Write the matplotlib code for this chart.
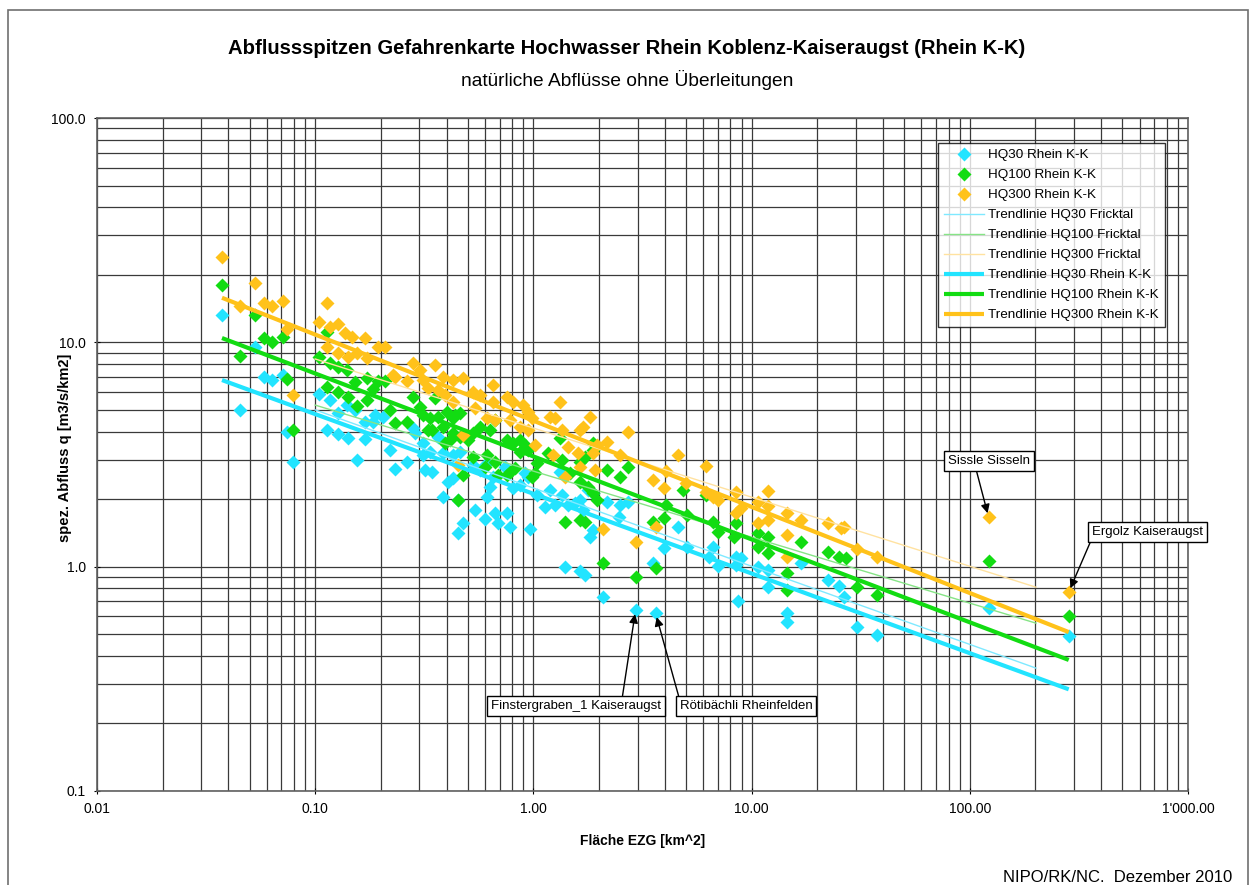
import numpy as np
import matplotlib
matplotlib.use("Agg")
import matplotlib.pyplot as plt
from matplotlib.patches import Rectangle

plt.rcParams["font.family"] = ["Liberation Sans", "DejaVu Sans"]

# --- data ---------------------------------------------------------------------
hq30_area = [0.0374, 0.0531, 0.0453, 0.0583, 0.0635, 0.0713, 0.0744, 0.0793, 0.1043, 0.117,
             0.1275, 0.140, 0.1527, 0.169, 0.188, 0.205, 0.1135, 0.1275, 0.1416, 0.169,
             0.156, 0.2208, 0.233, 0.264, 0.320, 0.344, 0.313, 0.385, 0.407, 0.1845,
             0.282, 0.2875, 0.313, 0.337, 0.365, 0.385, 0.4275, 0.463, 0.4275, 0.453,
             0.475, 0.453, 0.528, 0.571, 0.615, 0.652, 0.635, 0.615, 0.542, 0.602,
             0.669, 0.687, 0.760, 0.784, 0.744, 0.805, 0.872, 0.919, 0.944, 1.043,
             0.969, 1.197, 1.262, 1.359, 1.439, 1.559, 1.643, 1.695, 1.778, 1.875,
             2.185, 2.506, 2.70, 2.455, 1.402, 1.643, 1.732, 1.826, 1.875, 2.094,
             2.94, 3.63, 3.95, 3.53, 4.60, 1.330, 1.135, 5.08, 6.65, 6.35,
             6.98, 8.49, 8.90, 8.49, 10.65, 11.9, 11.9, 8.63, 14.6, 14.6,
             16.8, 22.3, 25.1, 26.4, 30.3, 37.4, 122, 284]
hq30_q = [13.2, 9.53, 4.99, 7.00, 6.79, 7.15, 3.98, 2.93, 5.88, 5.53,
          4.84, 5.25, 4.99, 4.41, 4.74, 4.64, 4.06, 3.90, 3.74, 3.71,
          2.99, 3.31, 2.72, 2.93, 2.70, 2.64, 3.15, 2.04, 2.38, 4.41,
          4.15, 3.94, 3.56, 3.24, 3.78, 3.21, 3.15, 3.24, 2.48, 1.98,
          1.56, 1.41, 2.84, 2.70, 2.90, 2.51, 2.26, 2.04, 1.79, 1.63,
          1.73, 1.56, 1.73, 1.50, 2.78, 2.24, 2.31, 2.61, 2.51, 2.09,
          1.47, 2.20, 1.88, 2.09, 1.88, 1.92, 1.98, 1.79, 2.20, 2.13,
          1.94, 1.88, 1.94, 1.66, 0.996, 0.956, 0.918, 1.355, 1.46, 0.732,
          0.641, 0.621, 1.21, 1.04, 1.50, 2.64, 1.84, 1.22, 1.22, 1.10,
          1.01, 1.10, 1.09, 1.02, 0.996, 0.966, 0.811, 0.703, 0.621, 0.566,
          1.04, 0.872, 0.820, 0.732, 0.538, 0.495, 0.654, 0.491]

hq100_area = [0.0374, 0.0531, 0.0453, 0.0583, 0.0635, 0.0713, 0.0744, 0.0793, 0.1135, 0.1043,
              0.117, 0.1275, 0.140, 0.1527, 0.173, 0.1945, 0.2096, 0.1135, 0.1275, 0.1416,
              0.156, 0.173, 0.1845, 0.2208, 0.233, 0.264, 0.282, 0.355, 0.313, 0.330,
              0.365, 0.385, 0.395, 0.416, 0.439, 0.463, 0.475, 0.303, 0.337, 0.403,
              0.4275, 0.344, 0.4275, 0.463, 0.528, 0.571, 0.635, 0.669, 0.503, 0.528,
              0.615, 0.669, 0.602, 0.687, 0.760, 0.805, 0.872, 0.919, 0.872, 0.944,
              0.760, 0.784, 0.827, 0.989, 1.021, 1.043, 1.172, 1.330, 1.359, 1.479,
              1.643, 1.732, 1.875, 1.875, 1.643, 1.778, 1.875, 1.966, 2.185, 2.506,
              2.70, 0.453, 1.402, 1.643, 1.732, 2.094, 2.94, 3.63, 3.53, 3.95,
              4.06, 4.83, 5.08, 6.18, 6.65, 6.98, 8.49, 8.27, 10.65, 11.9,
              10.65, 11.9, 14.6, 14.6, 16.8, 22.3, 25.1, 27.0, 30.3, 37.4,
              122, 284]
hq100_q = [18.0, 13.2, 8.69, 10.45, 10.0, 10.6, 6.86, 4.06, 11.1, 8.60,
           8.09, 7.76, 7.52, 6.65, 6.93, 6.72, 6.72, 6.32, 6.00, 5.70,
           5.20, 5.53, 6.19, 4.99, 4.37, 4.41, 5.70, 5.65, 4.74, 4.06,
           4.64, 4.19, 3.56, 3.67, 4.74, 4.84, 2.56, 5.15, 4.60, 4.89,
           4.60, 4.06, 3.94, 3.78, 3.94, 4.19, 4.06, 4.50, 3.67, 3.08,
           3.15, 2.93, 2.78, 2.56, 3.67, 3.56, 3.67, 3.48, 3.24, 3.31,
           2.56, 2.64, 2.75, 2.51, 2.61, 2.90, 3.21, 3.74, 2.99, 2.61,
           2.93, 3.08, 3.31, 3.56, 2.38, 2.26, 2.13, 1.98, 2.70, 2.51,
           2.78, 1.98, 1.58, 1.61, 1.58, 1.04, 0.899, 0.986, 1.58, 1.65,
           1.88, 2.20, 1.70, 2.09, 1.58, 1.43, 1.56, 1.355, 1.41, 1.355,
           1.22, 1.15, 0.936, 0.786, 1.29, 1.16, 1.10, 1.09, 0.811, 0.747,
           1.06, 0.602]

hq300_area = [0.0374, 0.0531, 0.0453, 0.0583, 0.0635, 0.0713, 0.0744, 0.0793, 0.1135, 0.1043,
              0.117, 0.1275, 0.137, 0.148, 0.169, 0.1135, 0.1275, 0.1416, 0.156, 0.173,
              0.1945, 0.2096, 0.228, 0.233, 0.264, 0.282, 0.303, 0.355, 0.330, 0.365,
              0.385, 0.4275, 0.475, 0.395, 0.4275, 0.475, 0.313, 0.528, 0.571, 0.652,
              0.652, 0.760, 0.805, 0.900, 0.944, 0.542, 0.615, 0.669, 0.784, 0.872,
              0.989, 0.944, 1.021, 1.197, 1.330, 1.359, 1.439, 1.235, 1.262, 1.643,
              1.695, 1.826, 1.609, 1.875, 1.966, 2.185, 2.70, 2.506, 1.643, 1.923,
              1.402, 0.453, 3.53, 4.06, 3.95, 4.60, 2.094, 2.94, 3.63, 4.98,
              6.18, 6.18, 6.65, 6.98, 8.49, 8.49, 8.90, 10.65, 11.9, 11.9,
              10.65, 11.9, 14.6, 16.8, 14.6, 14.6, 22.3, 25.6, 26.4, 30.3,
              37.4, 122, 284]
hq300_q = [24.0, 18.4, 14.5, 15.0, 14.5, 15.3, 11.5, 5.82, 15.0, 12.3,
           11.7, 12.1, 11.0, 10.6, 10.45, 9.53, 8.96, 8.60, 8.96, 8.51,
           9.53, 9.53, 7.15, 7.00, 6.72, 8.09, 7.52, 7.92, 6.25, 6.13,
           7.00, 6.79, 6.93, 5.82, 5.42, 3.86, 6.79, 6.00, 5.82, 6.45,
           5.42, 5.70, 5.42, 5.25, 4.89, 5.10, 4.60, 4.50, 4.50, 4.19,
           4.60, 4.06, 3.48, 4.64, 5.42, 4.06, 3.41, 3.15, 4.60, 4.06,
           4.19, 4.64, 3.21, 3.21, 3.48, 3.59, 3.98, 3.15, 2.78, 2.70,
           2.51, 2.84, 2.43, 2.67, 2.24, 3.15, 1.47, 1.29, 1.50, 2.36,
           2.81, 2.15, 2.04, 1.98, 2.15, 1.73, 1.82, 1.94, 2.17, 1.86,
           1.56, 1.61, 1.73, 1.61, 1.38, 1.10, 1.56, 1.49, 1.50, 1.20,
           1.10, 1.66, 0.77]

# trend lines (end points of the straight log-log lines)
trend_kk_area = [0.0374, 284]
trend_kk_hq30 = [6.79, 0.284]
trend_kk_hq100 = [10.45, 0.384]
trend_kk_hq300 = [15.8, 0.511]

trend_fricktal_area = [0.1, 201]
trend_fricktal_hq30 = [5.0, 0.353]
trend_fricktal_hq100 = [5.25, 0.56]
trend_fricktal_hq300 = [8.43, 0.81]

# labelled stations
callout_text = ["Sissle Sisseln", "Ergolz Kaiseraugst", "Finstergraben_1 Kaiseraugst", "Rötibächli Rheinfelden"]
callout_area = [122, 284, 2.94, 3.63]
callout_q = [1.66, 0.77, 0.641, 0.621]
# where the boxes sit (axes fraction) and where the arrow leaves the box
callout_pos = [(0.818, 0.490), (0.963, 0.385), (0.439, 0.126), (0.595, 0.126)]
callout_relpos = [(0.33, 0.0), (0.0, 0.0), (0.77, 1.0), (0.0, 1.0)]

x_ticks = [0.01, 0.1, 1, 10, 100, 1000]
x_tick_labels = ["0.01", "0.10", "1.00", "10.00", "100.00", "1'000.00"]
y_ticks = [0.1, 1, 10, 100]
y_tick_labels = ["0.1", "1.0", "10.0", "100.0"]

CYAN = "#22E4FF"
GREEN = "#12DC12"
ORANGE = "#FFC21A"

# --- figure -------------------------------------------------------------------
fig = plt.figure(figsize=(12.54, 8.85), dpi=100)
ax = fig.add_axes([97 / 1254, 1 - 791 / 885, 1091 / 1254, 673 / 885])

ax.set_xscale("log")
ax.set_yscale("log")
ax.set_xlim(0.01, 1000)
ax.set_ylim(0.1, 100)

ax.grid(True, which="both", color="#3a3a3a", linewidth=0.9)
ax.set_axisbelow(True)

ms = 6.8
ax.plot(hq30_area, hq30_q, "D", color=CYAN, ms=ms, mec="none", label="HQ30 Rhein K-K", zorder=3)
ax.plot(hq100_area, hq100_q, "D", color=GREEN, ms=ms, mec="none", label="HQ100 Rhein K-K", zorder=3)
ax.plot(hq300_area, hq300_q, "D", color=ORANGE, ms=ms, mec="none", label="HQ300 Rhein K-K", zorder=3)

ax.plot(trend_fricktal_area, trend_fricktal_hq30, color="#7FE9FF", lw=1.0, label="Trendlinie HQ30 Fricktal", zorder=4)
ax.plot(trend_fricktal_area, trend_fricktal_hq100, color="#86E486", lw=1.0, label="Trendlinie HQ100 Fricktal", zorder=4)
ax.plot(trend_fricktal_area, trend_fricktal_hq300, color="#FFE2A0", lw=1.0, label="Trendlinie HQ300 Fricktal", zorder=4)

ax.plot(trend_kk_area, trend_kk_hq30, color=CYAN, lw=3.0, label="Trendlinie HQ30 Rhein K-K", zorder=5, solid_capstyle="butt")
ax.plot(trend_kk_area, trend_kk_hq100, color=GREEN, lw=3.0, label="Trendlinie HQ100 Rhein K-K", zorder=5, solid_capstyle="butt")
ax.plot(trend_kk_area, trend_kk_hq300, color=ORANGE, lw=3.0, label="Trendlinie HQ300 Rhein K-K", zorder=5, solid_capstyle="butt")

ax.set_xticks(x_ticks)
ax.set_xticklabels(x_tick_labels)
ax.set_yticks(y_ticks)
ax.set_yticklabels(y_tick_labels)
ax.tick_params(which="major", length=4, width=0.8, direction="inout", labelsize=10, pad=6)
ax.tick_params(which="minor", length=0)
for sp in ax.spines.values():
    sp.set_color("#606060")
    sp.set_linewidth(1.2)

ax.set_xlabel("Fläche EZG [km^2]", fontsize=10, fontweight="bold", labelpad=13)
ax.set_ylabel("spez. Abfluss q [m3/s/km2]", fontsize=10.5, fontweight="bold")
ax.yaxis.set_label_coords((72 - 97) / 1091, 0.51)

for text, area, q, pos, rel in zip(callout_text, callout_area, callout_q, callout_pos, callout_relpos):
    ax.annotate(text, xy=(area, q), xycoords="data", xytext=pos, textcoords="axes fraction",
                ha="center", va="center", fontsize=9.5, zorder=8,
                bbox=dict(boxstyle="square,pad=0.3", fc="white", ec="black", lw=1.0),
                arrowprops=dict(arrowstyle="-|>", color="black", lw=1.0, mutation_scale=13,
                                shrinkA=0, shrinkB=3, relpos=rel))

leg = ax.legend(loc="upper left", bbox_to_anchor=(938 / 1254, 1 - 143 / 885),
                bbox_transform=fig.transFigure, fontsize=9.7, frameon=True, fancybox=False,
                handlelength=3.0, labelspacing=0.56, borderpad=0.45, handletextpad=0.25,
                borderaxespad=0)
leg.get_frame().set_edgecolor("black")
leg.get_frame().set_linewidth(1.0)
leg.set_zorder(10)

fig.text(0.5, 1 - 48 / 885, "Abflussspitzen Gefahrenkarte Hochwasser Rhein Koblenz-Kaiseraugst (Rhein K-K)",
         ha="center", va="center", fontsize=14.6, fontweight="bold")
fig.text(0.5, 1 - 80 / 885, "natürliche Abflüsse ohne Überleitungen", ha="center", va="center", fontsize=13.8)
fig.text(1232 / 1254, 1 - 878 / 885, "NIPO/RK/NC.  Dezember 2010", ha="right", va="center", fontsize=12)

fig.add_artist(Rectangle((8 / 1254, -0.02), 1240 / 1254, 0.02 + 1 - 10 / 885, transform=fig.transFigure,
                         fill=False, edgecolor="#707070", lw=1.2))

fig.savefig("out.png", dpi=100)
